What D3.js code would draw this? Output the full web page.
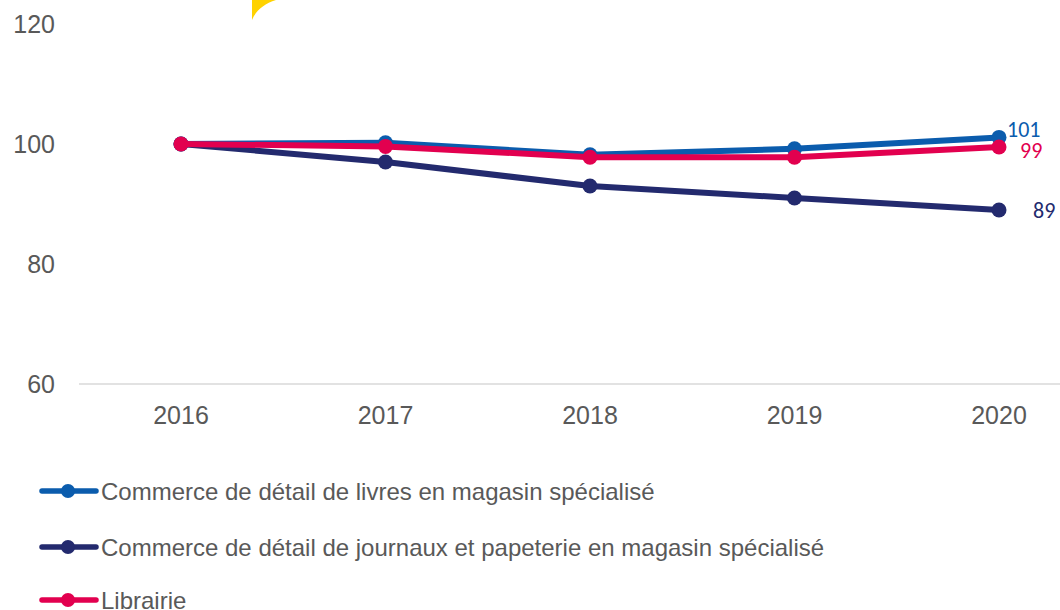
<!DOCTYPE html>
<html>
<head>
<meta charset="utf-8">
<script src="https://cdn.jsdelivr.net/npm/d3@7"></script>
<style>
  body { margin: 0; background: #fff; }
  svg { display: block; }
</style>
</head>
<body>
<div id="chart"></div>
<script>
const width = 1060;
const height = 610;

const years = ["2016", "2017", "2018", "2019", "2020"];
const yTicks = [60, 80, 100, 120];

const seriesNames = [
  "Commerce de détail de livres en magasin spécialisé",
  "Commerce de détail de journaux et papeterie en magasin spécialisé",
  "Librairie"
];
const livres = [100, 100.2, 98.2, 99.2, 101.1];
const journaux = [100, 97, 93, 91, 89];
const librairie = [100, 99.6, 97.8, 97.8, 99.5];
const endLabels = ["101", "89", "99"];

const colors = ["#0B5CAD", "#232A6E", "#E2004F"];

const series = [
  { name: seriesNames[0], values: livres, color: colors[0], label: endLabels[0], dx: 8, dy: -8 },
  { name: seriesNames[1], values: journaux, color: colors[1], label: endLabels[1], dx: 34, dy: 0 },
  { name: seriesNames[2], values: librairie, color: colors[2], label: endLabels[2], dx: 21, dy: 3 }
];

const svg = d3.select("#chart")
  .append("svg")
  .attr("width", width)
  .attr("height", height);

// decorative yellow corner at the top
svg.append("path")
  .attr("d", "M252,0 L276,0 C264,4 256,10 252,20 Z")
  .attr("fill", "#FFD200");

const x = d3.scalePoint().domain(years).range([181, 999]);
const y = d3.scaleLinear().domain([60, 120]).range([384, 24]);

// x axis baseline
svg.append("line")
  .attr("x1", 79).attr("x2", 1060)
  .attr("y1", y(60)).attr("y2", y(60))
  .attr("stroke", "#D9D9D9")
  .attr("stroke-width", 1.5);

svg.selectAll(".ytick")
  .data(yTicks)
  .enter()
  .append("text")
  .classed("ytick", true)
  .attr("x", 55)
  .attr("y", d => y(d))
  .attr("dy", "0.36em")
  .attr("text-anchor", "end")
  .style("font-family", "Liberation Sans, Arial, sans-serif")
  .style("font-size", "25px")
  .style("fill", "#595959")
  .text(d => d);

svg.selectAll(".xtick")
  .data(years)
  .enter()
  .append("text")
  .classed("xtick", true)
  .attr("x", d => x(d))
  .attr("y", 415)
  .attr("dy", "0.36em")
  .attr("text-anchor", "middle")
  .style("font-family", "Liberation Sans, Arial, sans-serif")
  .style("font-size", "25px")
  .style("fill", "#595959")
  .text(d => d);

const line = d3.line()
  .x((d, i) => x(years[i]))
  .y(d => y(d));

// draw order: navy first, then blue, red on top
const drawOrder = [series[1], series[0], series[2]];

drawOrder.forEach(s => {
  const g = svg.append("g");
  g.append("path")
    .datum(s.values)
    .attr("d", line)
    .attr("fill", "none")
    .attr("stroke", s.color)
    .attr("stroke-width", 6)
    .attr("stroke-linejoin", "round");
  g.selectAll("circle")
    .data(s.values)
    .enter()
    .append("circle")
    .attr("cx", (d, i) => x(years[i]))
    .attr("cy", d => y(d))
    .attr("r", 7.5)
    .attr("fill", s.color);
});

series.forEach(s => {
  const last = s.values[s.values.length - 1];
  svg.append("text")
    .attr("x", x(years[years.length - 1]) + s.dx)
    .attr("y", y(last) + s.dy)
    .attr("dy", "0.36em")
    .style("font-family", "Carlito, Noto Sans, sans-serif")
    .style("font-size", "22px")
    .style("fill", s.color)
    .text(s.label);
});

// legend
const legendY = [491, 547, 600];
series.forEach((s, i) => {
  const g = svg.append("g").attr("transform", `translate(0,${legendY[i]})`);
  g.append("line")
    .attr("x1", 42).attr("x2", 96)
    .attr("y1", 0).attr("y2", 0)
    .attr("stroke", s.color)
    .attr("stroke-width", 5.5)
    .attr("stroke-linecap", "round");
  g.append("circle")
    .attr("cx", 68).attr("cy", 0)
    .attr("r", 7)
    .attr("fill", s.color);
  g.append("text")
    .attr("x", 101)
    .attr("y", 0)
    .attr("dy", "0.36em")
    .style("font-family", "Liberation Sans, Arial, sans-serif")
    .style("font-size", "24px")
    .style("fill", "#595959")
    .text(s.name);
});
</script>
</body>
</html>
